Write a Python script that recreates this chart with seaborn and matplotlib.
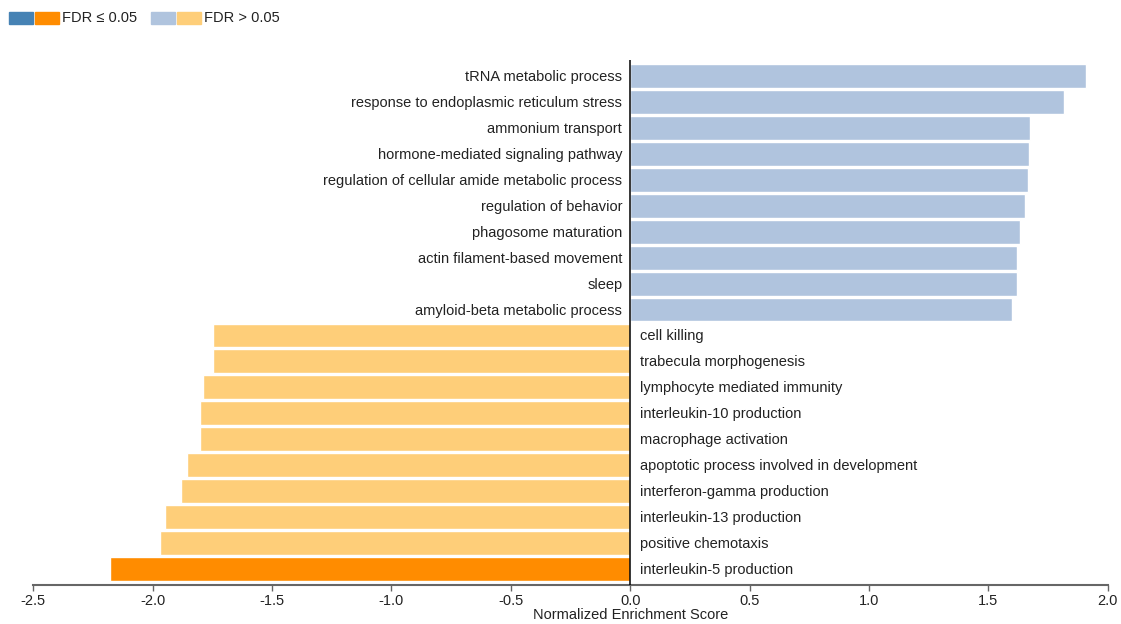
import matplotlib
matplotlib.use("Agg")
import matplotlib.pyplot as plt
import matplotlib.patches as mpatches
import matplotlib.transforms as mtransforms
import seaborn as sns
import pandas as pd

# Enriched GO biological process terms (top positive and top negative NES)
terms = [
    "tRNA metabolic process",
    "response to endoplasmic reticulum stress",
    "ammonium transport",
    "hormone-mediated signaling pathway",
    "regulation of cellular amide metabolic process",
    "regulation of behavior",
    "phagosome maturation",
    "actin filament-based movement",
    "sleep",
    "amyloid-beta metabolic process",
    "cell killing",
    "trabecula morphogenesis",
    "lymphocyte mediated immunity",
    "interleukin-10 production",
    "macrophage activation",
    "apoptotic process involved in development",
    "interferon-gamma production",
    "interleukin-13 production",
    "positive chemotaxis",
    "interleukin-5 production",
]
nes = [1.909, 1.819, 1.675, 1.671, 1.667, 1.654, 1.633, 1.620, 1.620, 1.600,
       -1.748, -1.748, -1.790, -1.802, -1.802, -1.856, -1.881, -1.948, -1.969, -2.179]
significant = [False] * 19 + [True]

x_ticks = [-2.5, -2.0, -1.5, -1.0, -0.5, 0.0, 0.5, 1.0, 1.5, 2.0]

COLORS = {
    ("pos", True): "#4682B4",
    ("neg", True): "#FF8C00",
    ("pos", False): "#B0C4DE",
    ("neg", False): "#FECE79",
}

df = pd.DataFrame({"term": terms, "nes": nes, "sig": significant})
df["color"] = [COLORS[("pos" if v > 0 else "neg", s)] for v, s in zip(df["nes"], df["sig"])]

sns.set_theme(style="white")
plt.rcParams["font.family"] = ["Liberation Sans", "DejaVu Sans"]

FS = 10.5
TXT = "#222222"

fig = plt.figure(figsize=(11.21, 6.24), dpi=100)
ax = fig.add_axes([33.3 / 1121, 1 - 584.7 / 624, (1107.7 - 33.3) / 1121, (584.7 - 60.3) / 624])

sns.barplot(data=df, x="nes", y="term", hue="term", palette=list(df["color"]),
            orient="h", width=0.92, legend=False, saturation=1, ax=ax)

ax.set_xlim(-2.5, 2.0)
ax.set_ylim(19.6, -0.6)
ax.set_xticks(x_ticks)
ax.set_xticklabels([f"{t:.1f}" for t in x_ticks], fontsize=FS, color=TXT)
ax.set_yticks([])
ax.set_ylabel("")
ax.set_xlabel("Normalized Enrichment Score", fontsize=FS, color=TXT)
# centre the axis title under the zero line
ax.xaxis.set_label_coords(2.5 / 4.5, -0.044)
ax.tick_params(axis="x", length=4, width=1, color="#666666", pad=3, bottom=True)

for side in ("top", "right", "left"):
    ax.spines[side].set_visible(False)
ax.spines["bottom"].set_color("#666666")
ax.spines["bottom"].set_linewidth(1.5)

ax.axvline(0, color="black", linewidth=1.1, zorder=3)

# Term labels on the opposite side of the zero line
left_off = mtransforms.offset_copy(ax.transData, fig=fig, x=-8, y=-1, units="dots")
right_off = mtransforms.offset_copy(ax.transData, fig=fig, x=10, y=-1, units="dots")
for i, (term, v) in enumerate(zip(df["term"], df["nes"])):
    if v > 0:
        ax.text(0, i, term, ha="right", va="center", fontsize=FS, color=TXT,
                transform=left_off)
    else:
        ax.text(0, i, term, ha="left", va="center", fontsize=FS, color=TXT,
                transform=right_off)

# Legend: paired colour swatches in the top-left corner
def swatch(x0, color):
    fig.patches.append(mpatches.Rectangle((x0 / 1121, 1 - 24 / 624), 24 / 1121, 12 / 624,
                                          transform=fig.transFigure, color=color))

swatch(9, COLORS[("pos", True)])
swatch(35, COLORS[("neg", True)])
fig.text(62 / 1121, 1 - 18.5 / 624, "FDR ≤ 0.05", fontsize=FS, va="center", ha="left", color=TXT)
swatch(151, COLORS[("pos", False)])
swatch(177, COLORS[("neg", False)])
fig.text(204 / 1121, 1 - 18.5 / 624, "FDR > 0.05", fontsize=FS, va="center", ha="left", color=TXT)

fig.savefig("out.png", dpi=100)
